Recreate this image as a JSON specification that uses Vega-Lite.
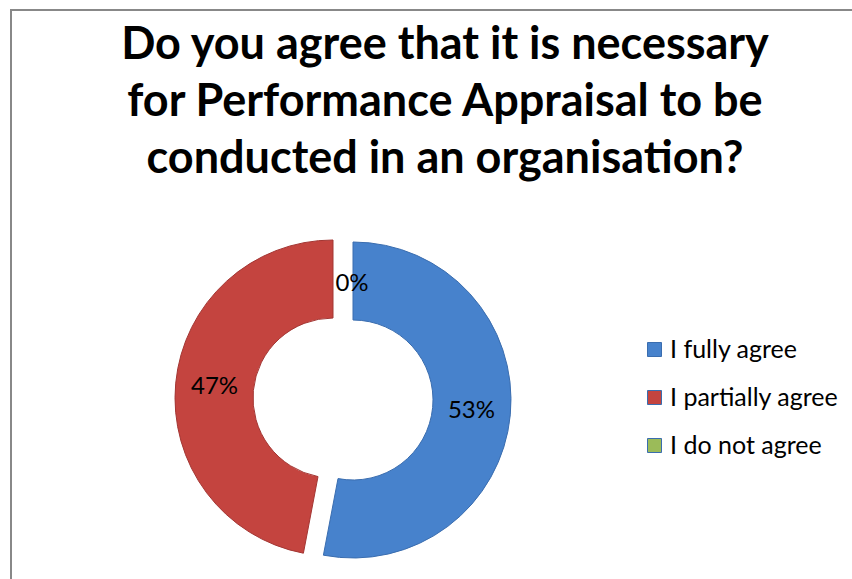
{
  "$schema": "https://vega.github.io/schema/vega-lite/v6.json",
  "width": 870,
  "height": 600,
  "autosize": {"type": "none"},
  "padding": {"left": 11, "top": 10, "right": 0, "bottom": 0},
  "background": "white",
  "view": {"stroke": "#888888", "strokeWidth": 2, "fill": "white"},
  "config": {"font": "Lato"},
  "title": {
    "text": ["Do you agree that it is necessary", "for Performance Appraisal to be", "conducted in an organisation?"],
    "font": "Lato",
    "fontSize": 45,
    "fontWeight": "bold",
    "color": "#000000",
    "lineHeight": 57,
    "anchor": "start",
    "frame": "group",
    "dx": 434,
    "align": "center",
    "offset": -172
  },
  "data": {
    "values": [
      {"answer": "I fully agree", "share": 0.53},
      {"answer": "I partially agree", "share": 0.47},
      {"answer": "I do not agree", "share": 0}
    ]
  },
  "transform": [
    {"stack": "share", "groupby": [], "sort": [{"field": "share", "order": "descending"}], "as": ["t0", "t1"]},
    {"calculate": "(datum.t0 + datum.t1) / 2", "as": "mid"}
  ],
  "encoding": {
    "color": {
      "field": "answer",
      "type": "nominal",
      "scale": {"domain": ["I fully agree", "I partially agree", "I do not agree"], "range": ["#4782cc", "#c4443f", "#9bbb59"]},
      "legend": {
        "title": null,
        "orient": "none",
        "legendX": 631,
        "legendY": 327,
        "symbolType": "square",
        "symbolSize": 196,
        "symbolStrokeWidth": 1,
        "labelFont": "Lato",
        "labelFontSize": 25,
        "labelColor": "#000000",
        "labelOffset": 3,
        "labelLimit": 400,
        "rowPadding": 22,
        "padding": 0
      }
    }
  },
  "layer": [
    {
      "transform": [{"filter": "datum.answer === 'I fully agree'"}],
      "layer": [
        {"mark": {"type": "arc", "x": 332, "y": 389, "innerRadius": 80, "outerRadius": 158, "xOffset": 10, "yOffset": 1, "stroke": "#3a6daf", "strokeWidth": 1},
         "encoding": {
           "theta": {"field": "t0", "type": "quantitative", "scale": {"domain": [0, 1], "range": [0, 6.283185307]}},
           "theta2": {"field": "t1"}
         }},
        {"mark": {"type": "text", "x": 332, "y": 389, "radius": 119, "xOffset": 10, "yOffset": 1, "fontSize": 24, "font": "Lato"},
         "encoding": {
           "theta": {"field": "mid", "type": "quantitative", "scale": {"domain": [0, 1], "range": [0, 6.283185307]}},
           "text": {"field": "share", "type": "quantitative", "format": ".0%"},
           "color": {"value": "#000000"}
         }}
      ]
    },
    {
      "transform": [{"filter": "datum.answer === 'I partially agree'"}],
      "layer": [
        {"mark": {"type": "arc", "x": 332, "y": 389, "innerRadius": 80, "outerRadius": 158, "xOffset": -10, "yOffset": -1, "stroke": "#a33633", "strokeWidth": 1},
         "encoding": {
           "theta": {"field": "t0", "type": "quantitative", "scale": {"domain": [0, 1], "range": [0, 6.283185307]}},
           "theta2": {"field": "t1"}
         }},
        {"mark": {"type": "text", "x": 332, "y": 389, "radius": 119, "xOffset": -10, "yOffset": -1, "fontSize": 24, "font": "Lato"},
         "encoding": {
           "theta": {"field": "mid", "type": "quantitative", "scale": {"domain": [0, 1], "range": [0, 6.283185307]}},
           "text": {"field": "share", "type": "quantitative", "format": ".0%"},
           "color": {"value": "#000000"}
         }}
      ]
    },
    {
      "transform": [{"filter": "datum.answer === 'I do not agree'"}],
      "layer": [
        {"mark": {"type": "text", "x": 332, "y": 389, "radius": 115, "dx": 9, "fontSize": 24, "font": "Lato"},
         "encoding": {
           "theta": {"field": "mid", "type": "quantitative", "scale": {"domain": [0, 1], "range": [0, 6.283185307]}},
           "text": {"field": "share", "type": "quantitative", "format": ".0%"},
           "color": {"value": "#000000"}
         }}
      ]
    }
  ]
}
